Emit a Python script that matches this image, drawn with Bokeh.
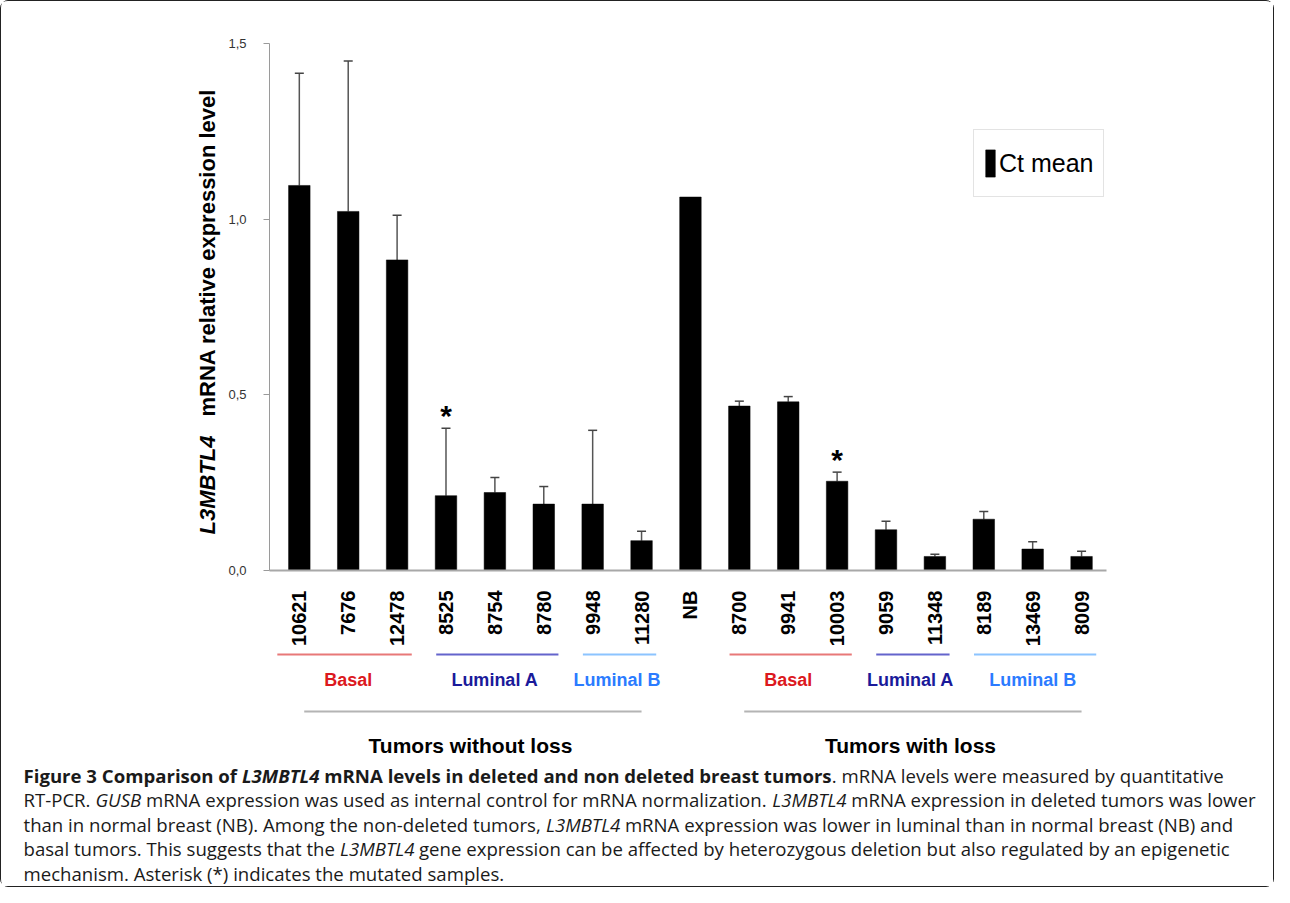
import math, struct, glob, os
from bokeh.plotting import figure
from bokeh.layouts import column, row
from bokeh.models import (Range1d, FixedTicker, CustomJSTickFormatter, ColumnDataSource,
                          Whisker, TeeHead, Label, BoxAnnotation, Legend, LegendItem)
from bokeh.core.properties import value
from bokeh.embed import file_html
from bokeh.resources import INLINE

# ---------------- data ----------------
samples = ["10621", "7676", "12478", "8525", "8754", "8780", "9948", "11280", "NB",
           "8700", "9941", "10003", "9059", "11348", "8189", "13469", "8009"]
ct_mean = [1.096, 1.022, 0.884, 0.213, 0.222, 0.189, 0.189, 0.085, 1.063,
           0.468, 0.480, 0.254, 0.116, 0.040, 0.146, 0.061, 0.040]
ct_err = [0.319, 0.428, 0.127, 0.192, 0.043, 0.050, 0.210, 0.027, 0.0,
          0.014, 0.015, 0.026, 0.024, 0.006, 0.022, 0.021, 0.015]
mutated = [False, False, False, True, False, False, False, False, False,
           False, False, True, False, False, False, False, False]

subtypes = ["Basal", "Luminal A", "Luminal B", "Basal", "Luminal A", "Luminal B"]
subtype_members = [[0, 1, 2], [3, 4, 5], [6, 7], [9, 10, 11], [12, 13], [14, 15, 16]]
status_groups = ["Tumors without loss", "Tumors with loss"]
status_members = [[0, 1, 2, 3, 4, 5, 6, 7], [9, 10, 11, 12, 13, 14, 15, 16]]
y_ticks = [0.0, 0.5, 1.0, 1.5]
legend_label = "Ct mean"
y_title = ["L3MBTL4", "mRNA relative expression level"]

caption_lines = [
    [("Figure 3 Comparison of ", "bold"), ("L3MBTL4", "bold italic"),
     (" mRNA levels in deleted and non deleted breast tumors", "bold"),
     (". mRNA levels were measured by quantitative", "normal")],
    [("RT-PCR. ", "normal"), ("GUSB", "italic"),
     (" mRNA expression was used as internal control for mRNA normalization. ", "normal"),
     ("L3MBTL4", "italic"), (" mRNA expression in deleted tumors was lower", "normal")],
    [("than in normal breast (NB). Among the non-deleted tumors, ", "normal"), ("L3MBTL4", "italic"),
     (" mRNA expression was lower in luminal than in normal breast (NB) and", "normal")],
    [("basal tumors. This suggests that the ", "normal"), ("L3MBTL4", "italic"),
     (" gene expression can be affected by heterozygous deletion but also regulated by an epigenetic", "normal")],
    [("mechanism. Asterisk (*) indicates the mutated samples.", "normal")],
]

# ---------------- styles ----------------
subtype_text_colors = {"Basal": "#dc1820", "Luminal A": "#1a1a9a", "Luminal B": "#2b7bff"}
subtype_line_colors = {"Basal": "#e87878", "Luminal A": "#6464cc", "Luminal B": "#8cc4ff"}
ARIAL = "Liberation Sans"
CAP = "Open Sans"

# ---------------- font metrics (caption run placement) ----------------
def _font_files():
    out = []
    for d in ["/usr/share/fonts", "/usr/local/share/fonts", "/usr/lib/fonts",
              os.path.expanduser("~/.fonts"), os.path.expanduser("~/.local/share/fonts")]:
        for ext in ("ttf", "otf", "TTF", "OTF"):
            out += glob.glob(os.path.join(d, "**", "*." + ext), recursive=True)
    return sorted(set(out))

def _load_widths(path):
    data = open(path, "rb").read()
    n = struct.unpack(">H", data[4:6])[0]
    tabs = {}
    for i in range(n):
        tag, cs, off, ln = struct.unpack(">4sIII", data[12 + 16 * i: 28 + 16 * i])
        tabs[tag.decode("latin1")] = off
    upem = struct.unpack(">H", data[tabs["head"] + 18: tabs["head"] + 20])[0]
    nhm = struct.unpack(">H", data[tabs["hhea"] + 34: tabs["hhea"] + 36])[0]
    ho = tabs["hmtx"]
    adv = [struct.unpack(">H", data[ho + 4 * i: ho + 4 * i + 2])[0] for i in range(nhm)]
    co = tabs["cmap"]
    nsub = struct.unpack(">H", data[co + 2: co + 4])[0]
    cmap = {}
    subs = []
    for i in range(nsub):
        pid, eid, so = struct.unpack(">HHI", data[co + 4 + 8 * i: co + 12 + 8 * i])
        fmt = struct.unpack(">H", data[co + so: co + so + 2])[0]
        subs.append((fmt, co + so))
    for fmt, sub in subs:
        if fmt == 12:
            ng = struct.unpack(">I", data[sub + 12: sub + 16])[0]
            for g in range(ng):
                sc, ec, sg = struct.unpack(">III", data[sub + 16 + 12 * g: sub + 28 + 12 * g])
                if sc > 0x3000:
                    continue
                for c in range(sc, min(ec, 0x3000) + 1):
                    cmap.setdefault(c, sg + c - sc)
        elif fmt == 4:
            segx2 = struct.unpack(">H", data[sub + 6: sub + 8])[0]
            segs = segx2 // 2
            ends = struct.unpack(">%dH" % segs, data[sub + 14: sub + 14 + segx2])
            starts = struct.unpack(">%dH" % segs, data[sub + 16 + segx2: sub + 16 + 2 * segx2])
            deltas = struct.unpack(">%dh" % segs, data[sub + 16 + 2 * segx2: sub + 16 + 3 * segx2])
            rpos = sub + 16 + 3 * segx2
            roffs = struct.unpack(">%dH" % segs, data[rpos: rpos + segx2])
            for i in range(segs):
                for c in range(starts[i], min(ends[i], 0x3000) + 1):
                    if c == 0xFFFF:
                        continue
                    if roffs[i] == 0:
                        g = (c + deltas[i]) & 0xFFFF
                    else:
                        pp = rpos + 2 * i + roffs[i] + 2 * (c - starts[i])
                        g = struct.unpack(">H", data[pp: pp + 2])[0]
                        g = (g + deltas[i]) & 0xFFFF if g else 0
                    cmap.setdefault(c, g)
    if not cmap:
        raise ValueError("no cmap")

    def width(s, size):
        return sum(adv[min(cmap.get(ord(ch), 0), nhm - 1)] for ch in s) * size / upem
    return width

def _make_measurers():
    files = _font_files()
    opens = [f for f in files
             if os.path.basename(f).lower().replace(" ", "").replace("_", "").startswith("opensans")
             and "condensed" not in os.path.basename(f).lower()]
    def pick(pred):
        for f in opens:
            b = os.path.basename(f).lower()
            if pred(b):
                return f
        return None
    reg = pick(lambda b: "regular" in b and "italic" not in b and "semi" not in b)
    if reg is None:
        reg = pick(lambda b: "italic" not in b and ("variable" in b or "[" in b or b in ("opensans.ttf",)))
    bold = pick(lambda b: b.endswith("-bold.ttf") or b.endswith("-bold.otf"))
    ital = pick(lambda b: b.endswith("-italic.ttf") or b.endswith("-italic.otf"))
    bital = pick(lambda b: b.endswith("-bolditalic.ttf") or b.endswith("-bolditalic.otf"))
    wreg = _load_widths(reg)
    m = {"normal": wreg}
    for key, f, fac in [("bold", bold, 1.07), ("italic", ital, 0.97), ("bold italic", bital, 1.04)]:
        if f:
            m[key] = _load_widths(f)
        else:
            m[key] = (lambda s, size, _f=fac: wreg(s, size) * _f)
    return m

try:
    MEAS = _make_measurers()
except Exception:
    MEAS = {k: (lambda s, size, _f=f: len(s) * 0.55 * size * _f)
            for k, f in [("normal", 1.0), ("bold", 1.07), ("italic", 0.97), ("bold italic", 1.04)]}

# ---------------- layout geometry (page pixels) ----------------
TOTAL_W = 1272
TITLE_W = 222
H_TOP = 648
H_GRP = 112
H_CAP = 125
FRAME_L, FRAME_R, FRAME_T, FRAME_B = 268, 1105, 42, 569

def blank_fig(w, h, xr, yr):
    f = figure(width=w, height=h, output_backend="svg", toolbar_location=None, tools="",
               x_range=xr, y_range=yr, x_axis_location=None, y_axis_location=None,
               min_border_left=0, min_border_right=0, min_border_top=0, min_border_bottom=0,
               background_fill_color="white", border_fill_color="white", frame_align=False)
    f.outline_line_color = None
    f.grid.visible = False
    return f

# ---------------- main chart ----------------
p = figure(width=TOTAL_W - TITLE_W, height=H_TOP, output_backend="svg", toolbar_location=None,
           tools="", x_range=Range1d(-0.61, 16.51), y_range=Range1d(0, 1.5),
           min_border_left=FRAME_L - TITLE_W, min_border_right=TOTAL_W - FRAME_R,
           min_border_top=FRAME_T, min_border_bottom=H_TOP - FRAME_B,
           background_fill_color="white", border_fill_color="white", frame_align=False)
p.outline_line_color = None
p.grid.visible = False

xs = list(range(len(samples)))
src = ColumnDataSource(dict(x=xs, top=ct_mean, name=samples))
bars = p.vbar(x="x", top="top", width=0.44, source=src, fill_color="black",
              line_color="black", line_width=0.5)

ei = [i for i in xs if ct_err[i] > 0]
err_src = ColumnDataSource(dict(x=ei, lower=[ct_mean[i] for i in ei],
                                upper=[ct_mean[i] + ct_err[i] for i in ei]))
p.add_layout(Whisker(source=err_src, base="x", lower="lower", upper="upper", dimension="height",
                     line_color="#555555", line_width=1.5, lower_head=None,
                     upper_head=TeeHead(size=9, line_color="#444444", line_width=1.5)))

mi = [i for i in xs if mutated[i]]
ast_src = ColumnDataSource(dict(x=mi, y=[ct_mean[i] + ct_err[i] for i in mi], t=["*"] * len(mi)))
p.text(x="x", y="y", text="t", source=ast_src, text_font=value(ARIAL), text_font_style="bold",
       text_font_size="30px", text_align="center", text_baseline="alphabetic", y_offset=-13,
       text_color="black")

ya = p.yaxis[0]
ya.ticker = FixedTicker(ticks=y_ticks)
ya.formatter = CustomJSTickFormatter(code="return tick.toFixed(1).replace('.', ',')")
ya.axis_line_color = "#9a9a9a"
ya.major_tick_line_color = "#9a9a9a"
ya.major_tick_out = 6
ya.major_tick_in = 0
ya.minor_tick_line_color = None
ya.major_label_standoff = 17
ya.major_label_text_font = ARIAL
ya.major_label_text_font_size = "13px"
ya.major_label_text_color = "#333333"

xa = p.xaxis[0]
xa.ticker = FixedTicker(ticks=xs)
xa.formatter = CustomJSTickFormatter(args=dict(labels=samples),
                                     code="const i = Math.round(tick); return labels[i] || '';")
xa.major_label_orientation = math.pi / 2
xa.major_tick_line_color = None
xa.minor_tick_line_color = None
xa.axis_line_color = "#a8a8a8"
xa.axis_line_width = 2
xa.major_label_standoff = 14
xa.major_label_text_font = ARIAL
xa.major_label_text_font_style = "bold"
xa.major_label_text_font_size = "20px"
xa.major_label_text_color = "black"

legend = Legend(items=[LegendItem(label=legend_label, renderers=[bars])],
                location=(972 - FRAME_L, FRAME_B - 196), orientation="vertical",
                glyph_width=12, glyph_height=34, label_height=46, label_standoff=3,
                padding=10, spacing=0, margin=0,
                border_line_color="#c8c8c8", border_line_width=1,
                background_fill_color="white", background_fill_alpha=1.0,
                label_text_font=ARIAL, label_text_font_size="25px", label_text_color="black")
p.add_layout(legend, "center")

# ---------------- y title panel ----------------
t_fig = blank_fig(TITLE_W, H_TOP, Range1d(0, TITLE_W), Range1d(H_TOP, 0))
t_fig.add_layout(Label(x=206, y=533, text=y_title[0], angle=math.pi / 2, text_align="left",
                       text_baseline="middle", text_font=ARIAL, text_font_style="bold italic",
                       text_font_size="22px", text_color="black"))
t_fig.add_layout(Label(x=206, y=415, text=y_title[1], angle=math.pi / 2, text_align="left",
                       text_baseline="middle", text_font=ARIAL, text_font_style="bold",
                       text_font_size="22px", text_color="black"))

# ---------------- group annotations panel (shares x scale with chart) ----------------
g_fig = figure(width=TOTAL_W, height=H_GRP, output_backend="svg", toolbar_location=None, tools="",
               x_range=p.x_range, y_range=Range1d(H_TOP + H_GRP, H_TOP),
               x_axis_location=None, y_axis_location=None,
               min_border_left=FRAME_L, min_border_right=TOTAL_W - FRAME_R,
               min_border_top=0, min_border_bottom=0,
               background_fill_color="white", border_fill_color="white", frame_align=False)
g_fig.outline_line_color = None
g_fig.grid.visible = False

for k, (name, mem) in enumerate(zip(subtypes, subtype_members)):
    lpad = 0.45 if k == 0 else 0.2
    g_fig.add_layout(BoxAnnotation(left=mem[0] - lpad, right=mem[-1] + 0.3, top=652, bottom=654,
                                   fill_color=subtype_line_colors[name], fill_alpha=1.0,
                                   line_color=None))
    g_fig.add_layout(Label(x=(mem[0] + mem[-1]) / 2, y=678, text=name, text_align="center",
                           text_baseline="middle", text_font=ARIAL, text_font_style="bold",
                           text_font_size="18px", text_color=subtype_text_colors[name]))

for name, mem in zip(status_groups, status_members):
    g_fig.add_layout(BoxAnnotation(left=mem[0] + 0.1, right=mem[-1], top=709, bottom=711,
                                   fill_color="#b4b4b4", fill_alpha=1.0, line_color=None))
    g_fig.add_layout(Label(x=(mem[0] + mem[-1]) / 2, y=744, text=name, text_align="center",
                           text_baseline="middle", text_font=ARIAL, text_font_style="bold",
                           text_font_size="21px", text_color="black"))

# ---------------- caption panel ----------------
y0 = H_TOP + H_GRP
c_fig = blank_fig(TOTAL_W, H_CAP, Range1d(0, TOTAL_W), Range1d(y0 + H_CAP, y0))

unit = sum(MEAS[st](t, 1.0) for t, st in caption_lines[1])
cap_size = round(1234.0 / unit, 1) if unit > 0 else 18.5
cap_size = max(15.0, min(19.5, cap_size))
line_y = [774, 798, 823, 847, 872]
for ly, runs in zip(line_y, caption_lines):
    x = 22.0
    for t, st in runs:
        lead = len(t) - len(t.lstrip(" "))
        x_draw = x + MEAS[st](" " * lead, cap_size)
        c_fig.add_layout(Label(x=x_draw, y=ly, text=t.strip(" "), text_align="left",
                               text_baseline="middle", text_font=CAP, text_font_style=st,
                               text_font_size="%.1fpx" % cap_size, text_color="#1a1a1a"))
        x += MEAS[st](t, cap_size)

layout = column(row(t_fig, p), g_fig, c_fig,
                styles={"border": "1px solid #222222", "border-radius": "8px"})

open("out.html", "w").write(file_html(layout, INLINE))
